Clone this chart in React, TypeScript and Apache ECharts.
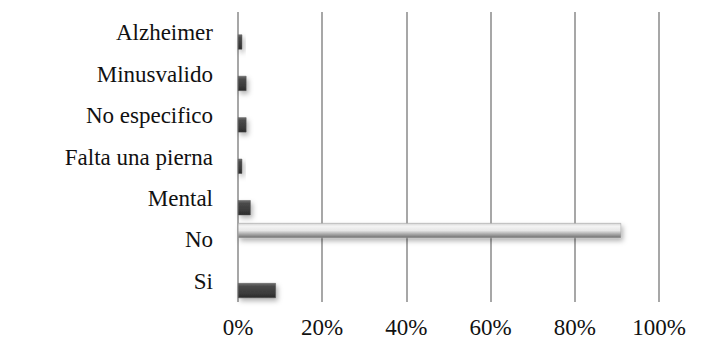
import React, { useEffect, useRef } from "react";
import * as echarts from "echarts";

const categories = ["Si", "No", "Mental", "Falta una pierna", "No especifico", "Minusvalido", "Alzheimer"];
const darkValues: (number | null)[] = [9, null, 3, 1, 2, 2, 1];
const lightValues: (number | null)[] = [null, 91, null, null, null, null, null];
const xTicks = { min: 0, max: 100, interval: 20 };

const FONT = "Liberation Serif";

export default function App() {
  const ref = useRef<HTMLDivElement>(null);
  useEffect(() => {
    if (!ref.current) return;
    const chart = echarts.init(ref.current, undefined, { renderer: "svg" });
    chart.setOption({
      animation: false,
      backgroundColor: "#ffffff",
      textStyle: { fontFamily: FONT },
      grid: { left: 238, right: 61, top: 12, bottom: 39, containLabel: false },
      xAxis: {
        type: "value",
        min: xTicks.min,
        max: xTicks.max,
        interval: xTicks.interval,
        axisLine: { show: false },
        axisTick: { show: false },
        axisLabel: {
          formatter: "{value}%",
          color: "#111",
          fontFamily: FONT,
          fontSize: 23,
          margin: 14,
        },
        splitLine: { show: true, lineStyle: { color: "#8a8a8a", width: 1.5 } },
      },
      yAxis: {
        type: "category",
        data: categories,
        axisLine: { show: false },
        axisTick: { show: false },
        axisLabel: {
          color: "#111",
          fontFamily: FONT,
          fontSize: 23,
          margin: 25,
        },
      },
      series: [
        {
          type: "bar",
          data: lightValues,
          barWidth: 15,
          barGap: "24%",
          itemStyle: {
            color: new echarts.graphic.LinearGradient(0, 0, 0, 1, [
              { offset: 0, color: "#d4d4d4" },
              { offset: 0.2, color: "#f4f4f4" },
              { offset: 0.5, color: "#e6e6e6" },
              { offset: 0.75, color: "#a8a8a8" },
              { offset: 1, color: "#6e6e6e" },
            ]),
            borderColor: "#9a9a9a",
            borderWidth: 0.5,
            shadowBlur: 5,
            shadowOffsetX: 2,
            shadowOffsetY: 3,
            shadowColor: "rgba(0,0,0,0.3)",
          },
        },
        {
          type: "bar",
          data: darkValues,
          barWidth: 15,
          barGap: "24%",
          itemStyle: {
            color: new echarts.graphic.LinearGradient(0, 0, 0, 1, [
              { offset: 0, color: "#707070" },
              { offset: 0.2, color: "#4a4a4a" },
              { offset: 0.7, color: "#3a3a3a" },
              { offset: 1, color: "#2a2a2a" },
            ]),
            borderColor: "#555",
            borderWidth: 0.5,
            shadowBlur: 5,
            shadowOffsetX: 2,
            shadowOffsetY: 3,
            shadowColor: "rgba(0,0,0,0.3)",
          },
        },
      ],
    });
    return () => chart.dispose();
  }, []);
  return <div ref={ref} style={{ width: 720, height: 341, position: "absolute", left: 0, top: 0 }} />;
}
